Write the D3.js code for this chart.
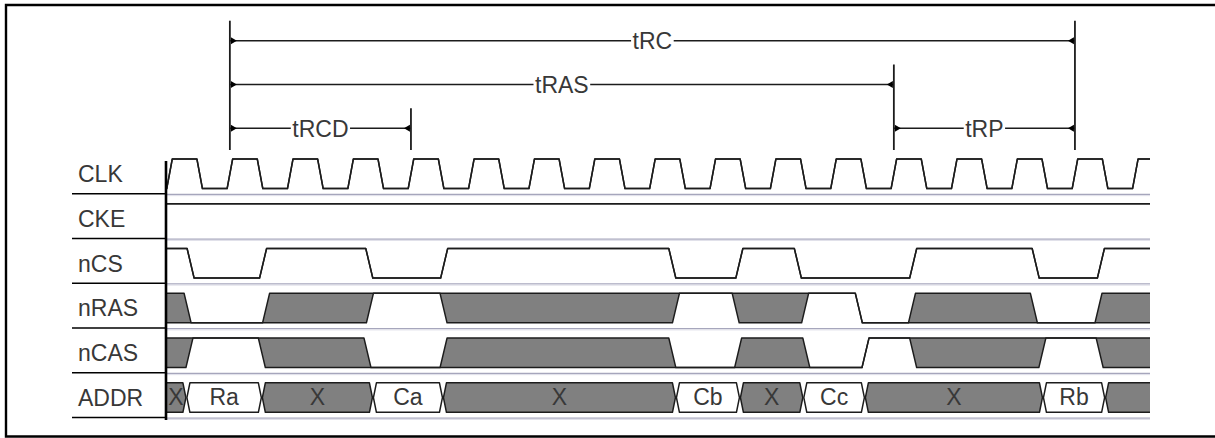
<!DOCTYPE html>
<html>
<head>
<meta charset="utf-8">
<script src="https://cdn.jsdelivr.net/npm/d3@7/dist/d3.min.js"></script>
<style>
  html, body { margin: 0; padding: 0; background: #fff; }
  svg { display: block; }
  text { font-family: Arial, "Liberation Sans", sans-serif; }
</style>
</head>
<body>
<svg id="chart" width="1215" height="438"></svg>
<script>
// ---- data (times in clock cycles, rising clock edge = whole number) ----
const signalNames = ["CLK", "CKE", "nCS", "nRAS", "nCAS", "ADDR"];

const clk = [[-0.06, "0"], [0, "1"], [0.5, "0"], [1, "1"], [1.5, "0"], [2, "1"], [2.5, "0"], [3, "1"], [3.5, "0"],
  [4, "1"], [4.5, "0"], [5, "1"], [5.5, "0"], [6, "1"], [6.5, "0"], [7, "1"], [7.5, "0"], [8, "1"], [8.5, "0"],
  [9, "1"], [9.5, "0"], [10, "1"], [10.5, "0"], [11, "1"], [11.5, "0"], [12, "1"], [12.5, "0"], [13, "1"],
  [13.5, "0"], [14, "1"], [14.5, "0"], [15, "1"], [15.5, "0"], [16, "1"]];
const cke = [[-0.06, "1"]];
const ncs = [[-0.06, "1"], [0.35, "0"], [1.55, "1"], [3.31, "0"], [4.55, "1"], [8.33, "0"], [9.44, "1"],
  [10.41, "0"], [12.32, "1"], [14.35, "0"], [15.43, "1"]];
const nras = [[-0.06, "X"], [0.3, "0"], [1.6, "X"], [3.32, "1"], [4.54, "X"], [8.39, "1"], [9.38, "X"],
  [10.53, "1"], [11.42, "0"], [12.3, "X"], [14.32, "0"], [15.39, "X"]];
const ncas = [[-0.06, "X"], [0.33, "1"], [1.53, "X"], [3.28, "0"], [4.54, "X"], [8.33, "0"], [9.42, "X"],
  [10.55, "0"], [11.53, "1"], [12.32, "X"], [14.46, "1"], [15.41, "X"]];
const addr = [[-0.06, "X"], [0.28, "Ra"], [1.53, "X"], [3.37, "Ca"], [4.53, "X"], [8.39, "Cb"], [9.45, "X"],
  [10.5, "Cc"], [11.52, "X"], [14.47, "Rb"], [15.5, "X"]];

const waves = [clk, cke, ncs, nras, ncas, addr];

// timing parameters (start / end in clock cycles, stacking level)
const spanNames = ["tRC", "tRAS", "tRCD", "tRP"];
const spanStart = [1, 1, 1, 12];
const spanEnd = [15, 12, 4, 15];
const spanLevel = [0, 1, 2, 2];

// ---- layout ----
const svg = d3.select("#chart");
const x = d3.scaleLinear().domain([0, 16]).range([169.5, 1135.3]);
const rowY = d3.scaleLinear().domain([0, signalNames.length]).range([149.6, 418.1]);
const spanY = d3.scaleLinear().domain([0, 2]).range([40.7, 128.3]);
const plotL = 166, plotR = 1150;
const HI = 9.5, LO = 39;          // level offsets inside a row
const INK = "#1c1c1c";
const TEXT = "#383838";
const GREY = "#808080";

// frame (right side is cut off in the original)
svg.append("path")
  .attr("d", `M1215,5H6V436.5H1215`)
  .attr("fill", "none").attr("stroke", "#000").attr("stroke-width", 2.4);

svg.append("defs").append("clipPath").attr("id", "plotClip")
  .append("rect").attr("x", plotL).attr("y", 140).attr("width", plotR - plotL).attr("height", 290);

// row separators + labels
signalNames.forEach((name, i) => {
  const yb = rowY(i + 1);
  svg.append("line").attr("x1", plotL).attr("x2", plotR).attr("y1", yb).attr("y2", yb)
    .attr("stroke", "#a6a6bc").attr("stroke-width", 1.3);
  svg.append("line").attr("x1", plotL).attr("x2", plotR).attr("y1", yb + 1.3).attr("y2", yb + 1.3)
    .attr("stroke", "#dedee8").attr("stroke-width", 1);
  svg.append("line").attr("x1", 72).attr("x2", plotL).attr("y1", yb - 0.6).attr("y2", yb - 0.6)
    .attr("stroke", "#000").attr("stroke-width", 1.4);
  svg.append("text").attr("x", 78).attr("y", rowY(i) + 32.6)
    .attr("font-size", 23).attr("fill", TEXT).text(name);
});

const plot = svg.append("g").attr("clip-path", "url(#plotClip)");
const line = d3.line();

// digital waveform: upper and lower boundary, grey where they differ
function drawDigital(changes, row, edge) {
  const top = rowY(row);
  const lv = s => s === "1" ? [top + HI, top + HI] : s === "0" ? [top + LO, top + LO] : [top + HI, top + LO];
  const up = [], lo = [];
  let cur = lv(changes[0][1]);
  up.push([x(changes[0][0]) - 10, cur[0]]);
  lo.push([x(changes[0][0]) - 10, cur[1]]);
  for (let i = 1; i < changes.length; i++) {
    const xc = x(changes[i][0]);
    const nxt = lv(changes[i][1]);
    up.push([xc - edge / 2, cur[0]], [xc + edge / 2, nxt[0]]);
    lo.push([xc - edge / 2, cur[1]], [xc + edge / 2, nxt[1]]);
    cur = nxt;
  }
  up.push([plotR + 10, cur[0]]);
  lo.push([plotR + 10, cur[1]]);

  plot.append("path").attr("d", line(up.concat(lo.slice().reverse())) + "Z")
    .attr("fill", GREY).attr("stroke", "none");
  [up, lo].forEach(pts => plot.append("path").attr("d", line(pts))
    .attr("fill", "none").attr("stroke", INK).attr("stroke-width", 1.5).attr("stroke-linejoin", "round"));
}

// bus waveform: hexagons with crossing transitions
function drawBus(changes, row) {
  const top = rowY(row), hi = top + HI, lo = top + LO, mid = (hi + lo) / 2;
  const h = 3;
  changes.forEach((c, i) => {
    const first = i === 0, last = i === changes.length - 1;
    const xs = first ? plotL - 10 : x(c[0]) + 0.5;
    const xe = last ? plotR + 10 : x(changes[i + 1][0]) - 0.5;
    const pts = [[xs, mid], [xs + h, hi], [xe - h, hi], [xe, mid], [xe - h, lo], [xs + h, lo]];
    plot.append("path").attr("d", line(pts) + "Z")
      .attr("fill", c[1] === "X" ? GREY : "#fff")
      .attr("stroke", INK).attr("stroke-width", 1.5).attr("stroke-linejoin", "round");
    if (!last) {
      const cx = (Math.max(xs, plotL) + xe) / 2;
      plot.append("text").attr("x", cx).attr("y", top + 32)
        .attr("text-anchor", "middle").attr("font-size", 23).attr("fill", TEXT).text(c[1]);
    }
  });
}

waves.forEach((w, i) => {
  if (signalNames[i] === "ADDR") drawBus(w, i);
  else drawDigital(w, i, signalNames[i] === "CLK" ? 5.5 : 7);
});

// left axis
svg.append("line").attr("x1", plotL).attr("x2", plotL).attr("y1", 161).attr("y2", 420)
  .attr("stroke", "#000").attr("stroke-width", 2.6);

// ---- timing parameter arrows ----
const markTimes = Array.from(new Set(spanStart.concat(spanEnd)));
markTimes.forEach(t => {
  let topY = Infinity;
  spanNames.forEach((n, i) => {
    if (spanStart[i] === t || spanEnd[i] === t) topY = Math.min(topY, spanY(spanLevel[i]) - 20);
  });
  svg.append("line").attr("x1", x(t)).attr("x2", x(t)).attr("y1", topY).attr("y2", 150)
    .attr("stroke", INK).attr("stroke-width", 1.8);
});

spanNames.forEach((name, i) => {
  const x0 = x(spanStart[i]), x1 = x(spanEnd[i]), y = spanY(spanLevel[i]);
  svg.append("line").attr("x1", x0).attr("x2", x1).attr("y1", y).attr("y2", y)
    .attr("stroke", INK).attr("stroke-width", 1.5);
  // arrowheads sit on the vertical markers, pointing into the span
  svg.append("path").attr("d", `M${x0 + 1},${y - 3.5}L${x0 + 7},${y}L${x0 + 1},${y + 3.5}Z`).attr("fill", "#000");
  svg.append("path").attr("d", `M${x1 - 1},${y - 3.5}L${x1 - 7},${y}L${x1 - 1},${y + 3.5}Z`).attr("fill", "#000");
  const label = svg.append("text").attr("x", (x0 + x1) / 2).attr("y", y + 8.4)
    .attr("text-anchor", "middle").attr("font-size", 23).attr("fill", TEXT).text(name);
  const len = label.node().getComputedTextLength();
  svg.insert("rect", () => label.node())
    .attr("x", (x0 + x1) / 2 - len / 2 - 1.5).attr("y", y - 3).attr("width", len + 3).attr("height", 6)
    .attr("fill", "#fff");
});
</script>
</body>
</html>
